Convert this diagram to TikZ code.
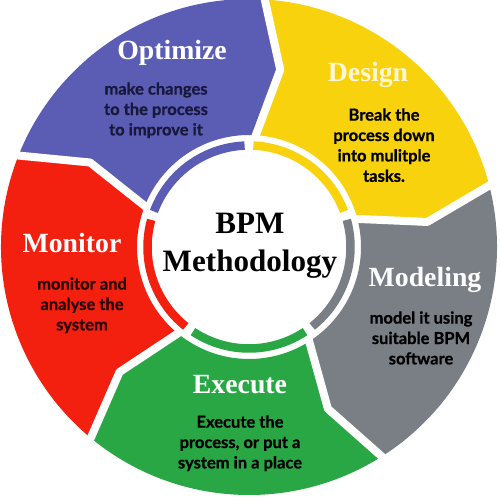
\documentclass[tikz,border=0pt]{standalone}
\usepackage{fontspec}
\setmainfont{Liberation Serif}
\newfontfamily\bodyfont[BoldFeatures={FakeBold=0.8}]{Lato}

\definecolor{optblue}{HTML}{5B5DB5}
\definecolor{desyellow}{HTML}{F8D20C}
\definecolor{modgray}{HTML}{7A7E85}
\definecolor{exegreen}{HTML}{29A745}
\definecolor{monred}{HTML}{F3200F}
\definecolor{desink}{HTML}{FFF6D8}
\definecolor{optink}{HTML}{17183B}
\definecolor{monink}{HTML}{2B0500}

\tikzset{
  phase/.style={font=\bfseries\fontsize{15.8}{18}\selectfont, text=white, anchor=base, inner sep=0pt},
  phasetext/.style={font=\bodyfont\bfseries\fontsize{9.4}{11.6}\selectfont, align=center, anchor=north, inner sep=0pt, text=black},
}

\begin{document}
\begin{tikzpicture}
      \useasboundingbox (-4.98,-5.06) rectangle (5.02,4.94);
      \fill[white] (-4.98,-5.06) rectangle (5.02,4.94);
      \node (zero) at (0,0) {};

      \def\R{4.96}
      \def\rin{2.24}
      \def\rmid{3.6}
      \def\del{7}

      %%%%%%%%%%%%%%%%%%%%%%%%%%%%%%%%%%%%%%%%%%%%%%%%%%%%%%%%%%%%%%%%%%%%%%%%%%%
      %%%%  Segments and inner ring
      \foreach \k/\col in {0/optblue,1/desyellow,2/modgray,3/exegreen,4/monred}
      {\pgfmathsetmacro\a{159-72*\k}
       \pgfmathsetmacro\b{\a-72}
       \fill[\col] (\a:\R) arc (\a:\b:\R) -- (\b-\del:\rmid) -- (\b:\rin)
          arc (\b:\a:\rin) -- (\a-\del:\rmid) -- cycle;
       \draw[\col,line width=0.17cm] (\a+0.5:2.03) arc (\a+0.5:\b+5.5:2.03);
      };

      %%%%  White gaps
      \foreach \k in {0,...,4}
      {\pgfmathsetmacro\a{159-72*\k}
       \draw[white,line width=0.16cm,line join=round]
          (\a:\R+0.2) -- (\a-\del:\rmid) -- (\a:\rin-0.06);
      };

      %%%%%%%%%%%%%%%%%%%%%%%%%%%%%%%%%%%%%%%%%%%%%%%%%%%%%%%%%%%%%%%%%%%%%%%%%%%
      %%%%  Labels
      \node[phase] (optimize) at (-1.54,3.74) {Optimize};
      \node[phase,text=desink] (design) at (2.38,3.30) {Design};
      \node[phase] (modeling) at (3.52,-0.80) {Modeling};
      \node[phase] (execute) at (-0.18,-2.92) {Execute};
      \node[phase] (monitor) at (-3.54,-0.12) {Monitor};

      \node[phasetext,text=optink] (optimize-text) at (-1.86,3.30)
        {make changes\\to the process\\to improve it};
      \node[phasetext] (design-text) at (2.70,2.78)
        {Break the\\process down\\into mulitple\\tasks.};
      \node[phasetext] (modeling-text) at (3.44,-1.28)
        {model it using\\suitable BPM\\software};
      \node[phasetext] (execute-text) at (-0.18,-3.36)
        {Execute the\\process, or put a\\system in a place};
      \node[phasetext,text=monink] (monitor-text) at (-3.34,-0.60)
        {monitor and\\analyse the\\system};

      \node[font=\bfseries\fontsize{17.7}{21.5}\selectfont, align=center,
        anchor=north, inner sep=0pt] (hub) at (0.02,0.68) {BPM\\Methodology};
    \end{tikzpicture}
\end{document}
